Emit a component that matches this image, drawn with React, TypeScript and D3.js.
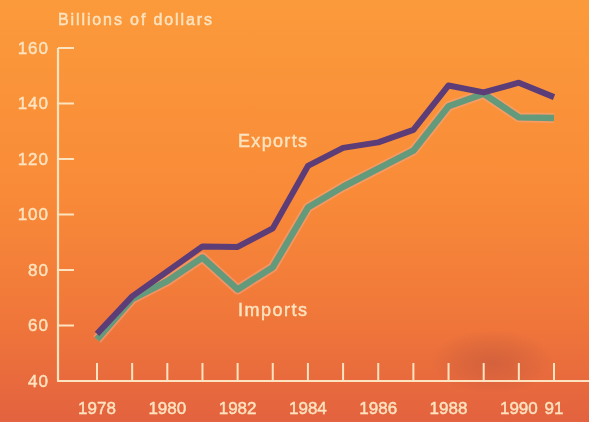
import React from "react";
import * as d3 from "d3";

const years = [1978, 1979, 1980, 1981, 1982, 1983, 1984, 1985, 1986, 1987, 1988, 1989, 1990, 1991];
const exportsVals = [57, 70.5, 79.5, 88.5, 88.3, 95, 117.5, 124, 126, 130.5, 146.5, 144, 147.5, 142.3];
const importsVals = [55, 69.5, 76, 84.5, 73, 81, 102.5, 110, 116.5, 123, 139, 143.5, 135, 134.8];
const yTicks = [40, 60, 80, 100, 120, 140, 160];
const xLabels: { year: number; label: string }[] = [
  { year: 1978, label: "1978" },
  { year: 1980, label: "1980" },
  { year: 1982, label: "1982" },
  { year: 1984, label: "1984" },
  { year: 1986, label: "1986" },
  { year: 1988, label: "1988" },
  { year: 1990, label: "1990" },
  { year: 1991, label: "91" },
];

const W = 589;
const H = 422;

export default function App() {
  const x = d3.scaleLinear().domain([1978, 1991]).range([97, 554]);
  const y = d3.scaleLinear().domain([40, 160]).range([381, 48]);
  const line = d3
    .line<number>()
    .x((_, i) => x(years[i]))
    .y((d) => y(d))
    .curve(d3.curveLinear);
  const cream = "#fde3bf";
  const font = "'Liberation Sans', Arial, sans-serif";
  const textProps = {
    fill: cream,
    fontFamily: font,
    stroke: cream,
    strokeWidth: 0.45,
  };
  return (
    <svg width={W} height={H} style={{ position: "absolute", left: 0, top: 0 }}>
      <defs>
        <linearGradient id="bg" x1="0" y1="0" x2="0" y2="1">
          <stop offset="0" stopColor="#fb9a3b" />
          <stop offset="0.45" stopColor="#f98b38" />
          <stop offset="0.75" stopColor="#f0773a" />
          <stop offset="1" stopColor="#e3623f" />
        </linearGradient>
        <radialGradient id="smudge" cx="0.5" cy="0.5" r="0.5">
          <stop offset="0" stopColor="#b04e3c" stopOpacity="0.4" />
          <stop offset="0.6" stopColor="#b04e3c" stopOpacity="0.18" />
          <stop offset="1" stopColor="#b04e3c" stopOpacity="0" />
        </radialGradient>
        <filter id="soft" x="-5%" y="-5%" width="110%" height="110%">
          <feGaussianBlur stdDeviation="0.7" />
        </filter>
      </defs>
      <rect x={0} y={0} width={W} height={H} fill="url(#bg)" />
      <ellipse cx={492} cy={362} rx={62} ry={32} fill="url(#smudge)" />
      <g filter="url(#soft)">
        {/* axes */}
        <line x1={58} y1={y(160)} x2={58} y2={y(40)} stroke={cream} strokeWidth={2.2} />
        <line x1={57} y1={y(40)} x2={W} y2={y(40)} stroke={cream} strokeWidth={2.2} />
        {yTicks.filter((t) => t > 40).map((t) => (
          <line key={t} x1={58} y1={y(t)} x2={74} y2={y(t)} stroke={cream} strokeWidth={2} />
        ))}
        {years.map((yr) => (
          <line key={yr} x1={x(yr)} y1={y(40) - 18} x2={x(yr)} y2={y(40)} stroke={cream} strokeWidth={2} />
        ))}
        {yTicks.map((t) => (
          <text
            key={t}
            x={49}
            y={y(t)}
            textAnchor="end"
            dominantBaseline="central"
            fontSize={17}
            letterSpacing={1}
            {...textProps}
          >
            {t}
          </text>
        ))}
        {xLabels.map((l) => (
          <text
            key={l.label}
            x={x(l.year)}
            y={408}
            textAnchor="middle"
            dominantBaseline="central"
            fontSize={17}
            {...textProps}
          >
            {l.label}
          </text>
        ))}
        <text x={58} y={25} fontSize={16} textLength={154} lengthAdjust="spacing" {...textProps}>
          Billions of dollars
        </text>
        {/* imports */}
        <path d={line(importsVals) || ""} fill="none" stroke="#f3a27e" strokeOpacity={0.6} strokeWidth={10} strokeLinejoin="round" />
        <path d={line(importsVals) || ""} fill="none" stroke="#649a7c" strokeWidth={6.5} strokeLinejoin="round" />
        {/* exports */}
        <path d={line(exportsVals) || ""} fill="none" stroke="#5c3c78" strokeWidth={6} strokeLinejoin="round" />
        <text x={238} y={147} fontSize={18} textLength={69} lengthAdjust="spacing" {...textProps}>
          Exports
        </text>
        <text x={238} y={316} fontSize={18} textLength={69} lengthAdjust="spacing" {...textProps}>
          Imports
        </text>
      </g>
    </svg>
  );
}
